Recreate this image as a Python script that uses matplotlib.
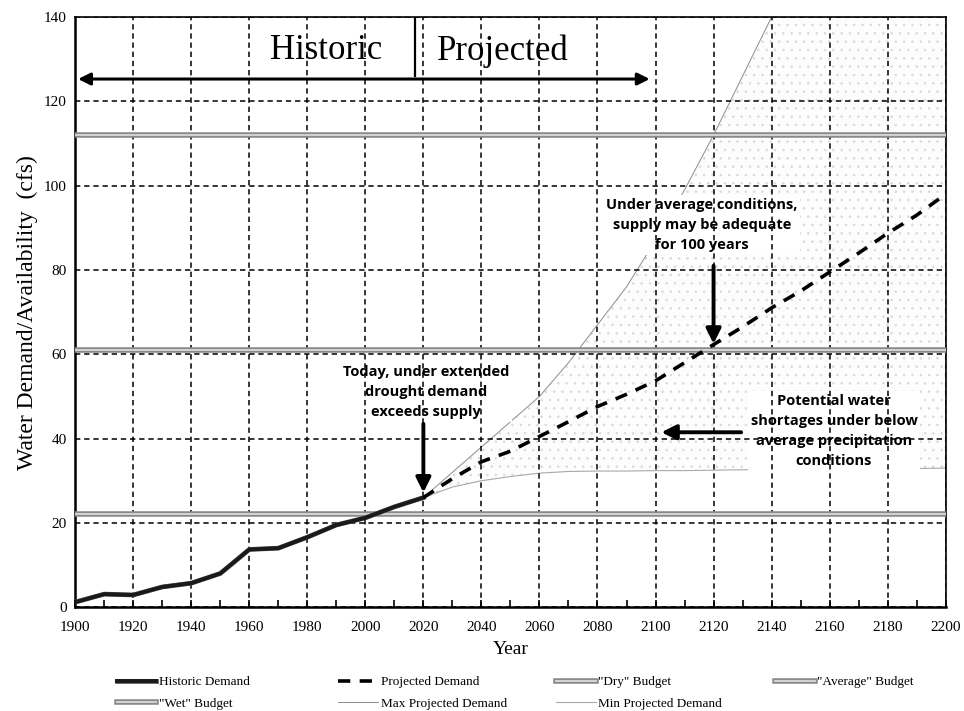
import matplotlib
matplotlib.use("Agg")
import matplotlib.pyplot as plt
import matplotlib.patheffects as pe

# historic demand (cfs)
HIST_YEARS = [1900, 1910, 1920, 1930, 1940, 1950, 1960, 1970, 1980, 1990, 2000, 2010, 2020]
HIST_DEMAND = [1.2, 3.1, 2.9, 4.8, 5.7, 8.0, 13.7, 14.0, 16.6, 19.5, 21.2, 23.8, 26.0]

# projected demand
PROJ_YEARS = [2020, 2030, 2040, 2050, 2060, 2070, 2080, 2090, 2100, 2110,
              2120, 2130, 2140, 2150, 2160, 2170, 2180, 2190, 2200]
PROJ_DEMAND = [26.0, 30.5, 34.5, 37.0, 40.5, 44.0, 47.6, 50.5, 53.7, 58.0,
               62.3, 66.5, 71.0, 75.0, 79.5, 84.0, 88.7, 93.0, 98.0]

# max / min projected demand envelope
ENV_YEARS = [2020, 2030, 2040, 2050, 2060, 2070, 2080, 2090, 2100, 2110,
             2120, 2130, 2140, 2150, 2160, 2170, 2180, 2190, 2200]
MAX_DEMAND = [26.0, 32.0, 38.0, 44.0, 50.0, 58.0, 67.0, 76.0, 87.0, 99.0,
              112.0, 126.0, 140.0, 155.0, 170.0, 185.0, 200.0, 215.0, 230.0]
MIN_DEMAND = [26.0, 28.5, 30.0, 31.0, 31.8, 32.2, 32.3, 32.3, 32.4, 32.4,
              32.5, 32.6, 32.6, 32.7, 32.7, 32.8, 32.8, 32.9, 33.0]

# supply budgets
BUDGET_NAMES = ['"Dry" Budget', '"Average" Budget', '"Wet" Budget']
BUDGET_VALUES = [22.0, 61.0, 112.0]

SERIF = "Liberation Serif"
SANS = "Open Sans"

plt.rcParams["hatch.linewidth"] = 0.6

fig = plt.figure(figsize=(9.64, 7.11), dpi=100)
ax = fig.add_axes([0.078, 0.146, 0.903, 0.830])
ax.set_xlim(1900, 2200)
ax.set_ylim(0, 140)

# shaded envelope between min and max projections
ax.fill_between(ENV_YEARS, MIN_DEMAND, MAX_DEMAND, facecolor="#fdfdfd",
                edgecolor="#dadada", hatch="..", linewidth=0, zorder=1)
max_line, = ax.plot(ENV_YEARS, MAX_DEMAND, color="#8c8c8c", lw=0.7, zorder=1.5,
                    label="Max Projected Demand")
min_line, = ax.plot(ENV_YEARS, MIN_DEMAND, color="#a8a8a8", lw=0.8, zorder=1.5,
                    label="Min Projected Demand")

# budgets drawn as grey double lines
double = [pe.Stroke(linewidth=4.0, foreground="#8a8a8a"), pe.Normal()]
budget_lines = []
for name, val in zip(BUDGET_NAMES, BUDGET_VALUES):
    ln, = ax.plot([1900, 2200], [val, val], color="#d9d9d9", lw=1.3,
                  path_effects=double, zorder=3, label=name)
    budget_lines.append(ln)

hist_line, = ax.plot(HIST_YEARS, HIST_DEMAND, color="#1a1a1a", lw=2.8, zorder=4,
                     path_effects=[pe.Stroke(linewidth=3.4, foreground="#555555"), pe.Normal()],
                     label="Historic Demand")
proj_line, = ax.plot(PROJ_YEARS, PROJ_DEMAND, color="black", lw=2.6, zorder=4,
                     dashes=(3.4, 2.6), label="Projected Demand")

# grid above the white text boxes
ax.set_xticks(range(1900, 2201, 20))
ax.set_xticks(range(1910, 2200, 20), minor=True)
ax.set_yticks(range(0, 141, 20))
ax.grid(True, which="major", color="black", linestyle=(0, (3.5, 2.5)), lw=1.1)
ax.set_axisbelow(False)

ax.tick_params(axis="x", which="both", direction="in", length=5, width=1.2,
               labelsize=11, pad=10)
ax.tick_params(axis="y", length=0, labelsize=11, pad=6)
for lab in ax.get_xticklabels() + ax.get_yticklabels():
    lab.set_fontfamily(SERIF)
for side in ["left", "bottom"]:
    ax.spines[side].set_linewidth(1.8)
for side in ["top", "right"]:
    ax.spines[side].set_linewidth(1.2)

ax.set_xlabel("Year", fontsize=14, fontfamily=SERIF, labelpad=5)
ax.set_ylabel("Water Demand/Availability  (cfs)", fontsize=17, fontfamily=SERIF, labelpad=4)

# Historic / Projected header
ax.text(1986.5, 132.0, "Historic", fontsize=25, fontfamily=SERIF, ha="center", va="center")
ax.text(2047.5, 132.0, "Projected", fontsize=25, fontfamily=SERIF, ha="center", va="center")
ax.plot([2017, 2017], [126, 139.6], color="black", lw=1.6, zorder=5)
ax.annotate("", xy=(1901, 125.3), xytext=(2098, 125.3),
            arrowprops=dict(arrowstyle="<|-|>", lw=2.2, color="black", mutation_scale=18,
                            shrinkA=0, shrinkB=0), zorder=5)

# annotations
note_kw = dict(fontsize=10.5, fontfamily=SANS, fontweight="bold", ha="center",
               va="center", linespacing=1.55, zorder=2,
               bbox=dict(facecolor="white", edgecolor="none", pad=2))
ax.text(2021, 51.0, "Today, under extended\ndrought demand\nexceeds supply", **note_kw)
ax.text(2116, 90.6, "Under average conditions,\nsupply may be adequate\nfor 100 years", **note_kw)
ax.text(2161.5, 41.8, "Potential water\nshortages under below\naverage precipitation\nconditions",
        **note_kw)

arrow_kw = dict(arrowstyle="-|>", lw=2.8, color="black", mutation_scale=22,
                shrinkA=0, shrinkB=0)
ax.annotate("", xy=(2020, 27.2), xytext=(2020, 43.5), arrowprops=arrow_kw, zorder=5)
ax.annotate("", xy=(2120, 62.5), xytext=(2120, 81.0), arrowprops=arrow_kw, zorder=5)
ax.annotate("", xy=(2102, 41.5), xytext=(2129.5, 41.5), arrowprops=arrow_kw, zorder=5)

# legend: one small legend per column so the columns sit evenly apart
legend_cols = [[hist_line, budget_lines[2]], [proj_line, max_line],
               [budget_lines[0], min_line], [budget_lines[1]]]
col_x = [0.121, 0.351, 0.577, 0.804]
for xpos, col in zip(col_x, legend_cols):
    leg = fig.legend(handles=col, labels=[h.get_label() for h in col],
                     loc="upper left", bbox_to_anchor=(xpos, 0.049), frameon=False,
                     prop={"family": SERIF, "size": 9.5}, handlelength=3.0,
                     handletextpad=0.2, labelspacing=0.7, borderpad=0, borderaxespad=0)

fig.savefig("out.png", dpi=100)
